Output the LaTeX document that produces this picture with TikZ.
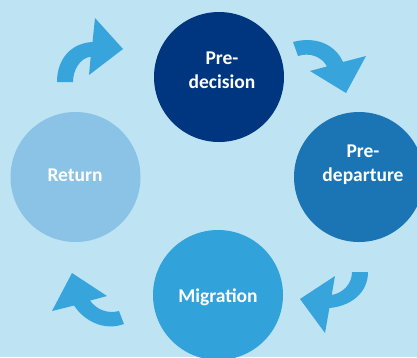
\documentclass[tikz,border=0pt]{standalone}
\usepackage{fontspec}
\setmainfont{Carlito}
\definecolor{bg}{HTML}{BEE3F2}
\definecolor{cdec}{HTML}{00367F}
\definecolor{cdep}{HTML}{1B75B4}
\definecolor{cmig}{HTML}{32A2DA}
\definecolor{cret}{HTML}{8AC3E5}
\definecolor{carr}{HTML}{37A4DC}
\tikzset{
  stage/.style={circle, minimum size=130pt, inner sep=0pt, text=white, align=center,
    font=\bfseries\fontsize{19.5}{24}\selectfont},
  arr/.style={fill=carr, draw=none}
}
\begin{document}
\begin{tikzpicture}[x=1pt,y=-1pt]
\fill[bg] (0,0) rectangle (417,357);
\useasboundingbox (0,0) rectangle (417,357);
\begin{scope}
\clip (0,0) rectangle (417,357);
\node[stage, fill=cdec] (dec) at (219,77) {};
\node[stage, fill=cdep] (dep) at (359,177) {};
\node[stage, fill=cmig] (mig) at (218,295) {};
\node[stage, fill=cret] (ret) at (75.5,177) {};
\end{scope}
\node[stage, minimum size=0pt] (tdec) at (222,70) {Pre-\\decision};
\node[stage, minimum size=0pt] (tdep) at (363,165) {Pre-\\departure};
\node[stage, minimum size=0pt] (tmig) at (218,297) {Migration};
\node[stage, minimum size=0pt] (tret) at (75,175) {Return};
% arrows
\fill[arr] (57,82) .. controls (57,58) and (72,43) .. (92.5,42) -- (95,18) -- (123,49) -- (89,75)
  -- (90.7,56.7) .. controls (80,58) and (73,70) .. (73,82) -- cycle;
\fill[arr] (293,42) .. controls (315,36) and (335,44) .. (343,62) -- (366,56) -- (346,93) -- (310,71)
  -- (327,66.4) .. controls (322,57) and (310,52) .. (298,56) -- cycle;
\fill[arr] (368,272) .. controls (368,292) and (352,306) .. (329.4,308) -- (325,333) -- (300,299) -- (335,276)
  -- (331.7,295) .. controls (343,293) and (352,284) .. (352,272) -- cycle;
\fill[arr] (124,324) .. controls (105,331) and (85,322) .. (74,305.5) -- (52,311) -- (72,273) -- (107,296)
  -- (90,300.6) .. controls (97,310) and (108,314) .. (119,311) -- cycle;
\end{tikzpicture}
\end{document}
